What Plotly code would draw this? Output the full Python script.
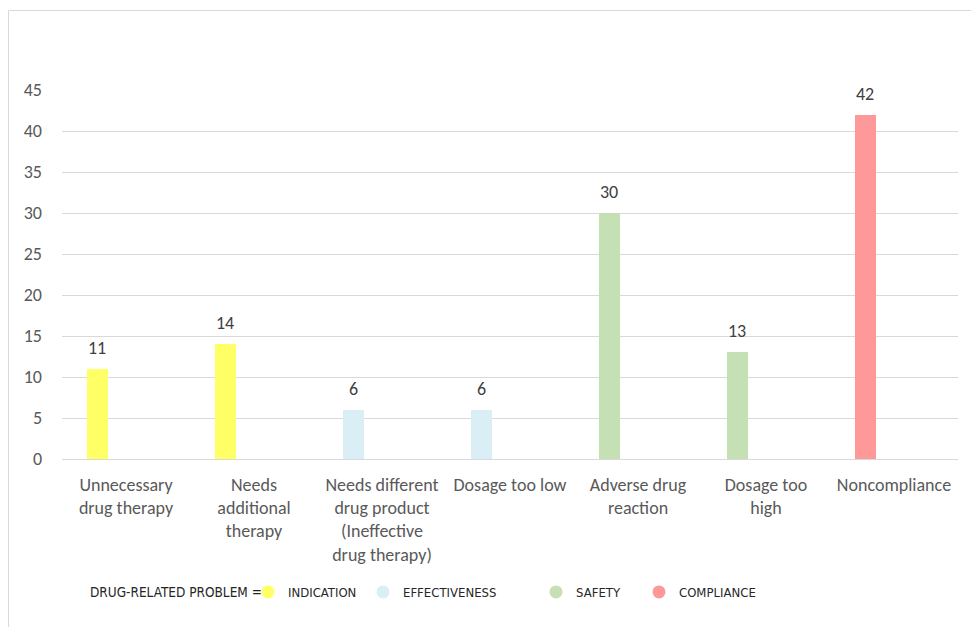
import plotly.graph_objects as go

categories = [
    "Unnecessary<br>drug therapy",
    "Needs<br>additional<br>therapy",
    "Needs different<br>drug product<br>(Ineffective<br>drug therapy)",
    "Dosage too low",
    "Adverse drug<br>reaction",
    "Dosage too<br>high",
    "Noncompliance",
]
values = [11, 14, 6, 6, 30, 13, 42]
groups = ["INDICATION", "INDICATION", "EFFECTIVENESS", "EFFECTIVENESS", "SAFETY", "SAFETY", "COMPLIANCE"]
group_names = ["INDICATION", "EFFECTIVENESS", "SAFETY", "COMPLIANCE"]
group_colors = {"INDICATION": "#FFFF66", "EFFECTIVENESS": "#DAEEF6", "SAFETY": "#C5E0B4", "COMPLIANCE": "#FF9999"}
y_ticks = [0, 5, 10, 15, 20, 25, 30, 35, 40, 45]
legend_title = "DRUG-RELATED PROBLEM ="

MAIN_FONT = "Carlito, Lato, sans-serif"
LEG_FONT = "Liberation Sans Narrow, Arial Narrow, DejaVu Sans Condensed, sans-serif"

BAR_OFFSET = -0.308
BAR_WIDTH = 0.168

W, H = 971, 627
L, R, T, B = 62, 13, 90, 168
pw = W - L - R
ph = H - T - B
cat_px = pw / len(categories)

fig = go.Figure()
fig.add_trace(go.Bar(
    x=categories, y=values,
    marker=dict(color=[group_colors[g] for g in groups], line=dict(width=0)),
    width=BAR_WIDTH, offset=BAR_OFFSET,
    cliponaxis=False, showlegend=False, hoverinfo="x+y",
))

legend_ids = ["legend", "legend2", "legend3", "legend4"]
for g, lid in zip(group_names, legend_ids):
    fig.add_trace(go.Scatter(
        x=[None], y=[None], mode="markers", name=g,
        marker=dict(symbol="circle", size=13, color=group_colors[g]),
        legend=lid, showlegend=True,
    ))

def px_to_paper_x(px):
    return (px - L) / pw

def py_to_paper_y(py):
    return (H - B - py) / ph

label_xshift = (BAR_OFFSET + BAR_WIDTH / 2) * cat_px
annotations = [
    dict(x=c, y=v, xref="x", yref="y", text=str(v), showarrow=False,
         xshift=label_xshift, yshift=21, yanchor="middle",
         font=dict(family=MAIN_FONT, size=18, color="#404040"))
    for c, v in zip(categories, values)
]
annotations.append(dict(
    x=px_to_paper_x(88), y=py_to_paper_y(592), xref="paper", yref="paper",
    xanchor="left", yanchor="middle", showarrow=False, text=legend_title,
    font=dict(family=LEG_FONT, size=13.5, color="#262626"),
))

leg_common = dict(
    orientation="h", xref="container", yref="container", xanchor="left", yanchor="middle",
    font=dict(family=LEG_FONT, size=13, color="#262626"), bgcolor="rgba(0,0,0,0)",
    borderwidth=0, itemclick=False, itemdoubleclick=False,
)
leg_y = 1 - 592 / H

layout_legends = {
    "legend": dict(leg_common, x=(270 - 22) / W, y=leg_y),
    "legend2": dict(leg_common, x=(385 - 22) / W, y=leg_y),
    "legend3": dict(leg_common, x=(558 - 22) / W, y=leg_y),
    "legend4": dict(leg_common, x=(661 - 22) / W, y=leg_y),
}

fig.update_layout(
    width=W, height=H,
    margin=dict(l=L, r=R, t=T, b=B),
    paper_bgcolor="white", plot_bgcolor="white",
    bargap=0, barmode="overlay",
    xaxis=dict(
        type="category", showgrid=False, showline=True, linecolor="#D9D9D9", linewidth=1,
        ticks="", tickangle=0, tickfont=dict(family=MAIN_FONT, size=18, color="#595959"),
        ticklabelstandoff=9, fixedrange=True,
    ),
    yaxis=dict(
        range=[0, 45], tickvals=y_ticks, showgrid=True, gridcolor="#D9D9D9", gridwidth=1,
        zeroline=False, showline=False, ticks="",
        tickfont=dict(family=MAIN_FONT, size=18, color="#595959"),
        ticklabelstandoff=19, fixedrange=True,
    ),
    shapes=[
        dict(type="line", xref="paper", yref="paper",
             x0=px_to_paper_x(8.5), x1=px_to_paper_x(975), y0=py_to_paper_y(10.5), y1=py_to_paper_y(10.5),
             line=dict(color="#D9D9D9", width=1)),
        dict(type="line", xref="paper", yref="paper",
             x0=px_to_paper_x(8.5), x1=px_to_paper_x(8.5), y0=py_to_paper_y(10.5), y1=py_to_paper_y(630),
             line=dict(color="#D9D9D9", width=1)),
    ],
    annotations=annotations,
    **layout_legends,
)

fig.write_html("out.html")
